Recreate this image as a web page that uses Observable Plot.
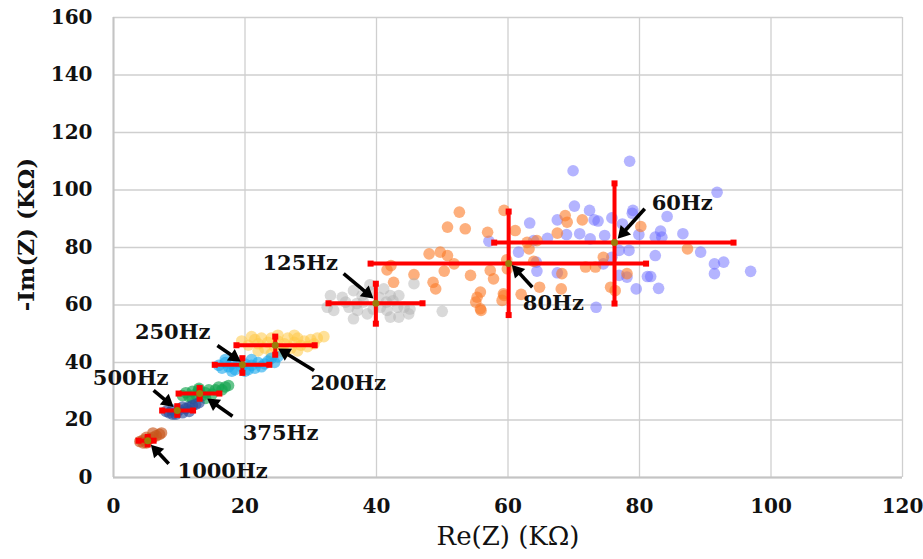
<!DOCTYPE html>
<html><head><meta charset="utf-8">
<script src="https://cdn.jsdelivr.net/npm/d3@7"></script>
<script src="https://cdn.jsdelivr.net/npm/@observablehq/plot@0.6"></script>
<style>
html,body{margin:0;padding:0;background:#fff;}
</style></head><body><div id="chart"></div>
<script>
// ---- Data (Re, -Im in kΩ) ----
const xTicks = [0, 20, 40, 60, 80, 100, 120];
const yTicks = [0, 20, 40, 60, 80, 100, 120, 140, 160];

const pts60Hz = [[69.9,106.7],[78.5,110.0],[91.8,99.2],[70.1,94.4],[72.4,92.9],[73.7,89.2],[73.1,89.6],[75.8,90.3],[79.0,92.9],[78.9,91.9],[77.4,88.2],[84.2,90.8],[68.9,84.5],[70.9,84.8],[72.5,83.0],[74.7,84.2],[79.9,84.5],[83.2,85.7],[82.4,83.6],[83.4,83.6],[86.6,84.8],[78.4,79.0],[76.9,79.0],[89.3,78.4],[82.4,77.2],[75.8,76.6],[74.5,74.3],[91.4,74.3],[92.8,74.9],[91.4,70.9],[96.9,71.7],[76.9,70.3],[78.1,69.7],[81.7,69.9],[79.5,65.6],[82.9,65.8],[73.4,59.2],[63.3,88.5],[67.5,89.6],[63.9,82.4],[66.0,83.2],[61.6,78.4],[64.3,74.9],[64.4,71.8],[67.5,71.2],[81.2,69.9],[57.1,82.2]];
const pts80Hz = [[52.6,92.3],[50.8,87.1],[53.5,86.5],[56.9,85.3],[59.4,92.9],[48.0,77.8],[49.7,78.4],[50.8,77.2],[51.8,74.3],[42.2,73.7],[41.6,72.2],[50.3,71.8],[45.7,70.6],[42.6,67.9],[48.6,67.9],[49.0,65.6],[54.3,70.3],[57.3,72.0],[57.8,69.1],[55.8,64.5],[55.3,62.7],[55.1,61.0],[59.3,63.9],[59.1,61.6],[55.9,58.1],[61.1,85.9],[68.7,91.1],[69.0,88.8],[71.3,89.6],[67.5,85.0],[62.9,81.8],[63.2,79.5],[64.4,82.4],[80.2,87.3],[59.8,75.7],[63.9,75.2],[59.9,72.6],[71.8,73.2],[73.3,73.2],[74.5,76.6],[68.2,70.9],[64.8,66.2],[68.1,65.6],[62.0,63.7],[59.4,63.3],[75.6,66.2],[78.1,70.9],[87.3,79.5],[76.3,65.0],[55.8,58.7]];
const pts125Hz = [[33.0,63.3],[34.8,62.7],[33.5,58.1],[36.5,65.0],[37.8,63.3],[39.1,64.5],[41.1,65.6],[42.1,63.3],[43.4,63.3],[45.7,67.4],[50.0,57.8],[35.8,59.2],[37.1,58.1],[36.5,55.2],[38.6,56.9],[41.6,58.1],[42.1,55.8],[43.4,55.8],[44.2,59.2],[44.9,56.9],[45.1,58.6],[40.6,59.2],[39.5,58.6],[40.4,62.7],[38.0,61.0],[35.3,61.0],[43.2,59.2],[32.5,59.2],[37.0,60.5],[41.5,61.0],[39.0,67.0],[42.5,61.5]];
const pts200Hz = [[19.5,47.5],[20.5,46.0],[21.5,48.0],[22.0,46.5],[22.5,48.5],[23.0,45.0],[23.5,47.0],[24.0,48.5],[24.5,45.5],[25.0,47.5],[25.5,44.0],[26.0,46.5],[26.5,48.5],[27.0,45.0],[27.5,47.0],[28.0,48.5],[28.5,46.0],[29.0,47.5],[29.5,45.5],[30.0,48.0],[30.5,46.5],[31.0,48.5],[32.0,49.0],[22.0,44.0],[24.0,43.0],[26.0,43.5],[28.0,44.0],[21.0,49.0],[25.0,49.5],[27.5,49.5]];
const pts250Hz = [[16.0,39.0],[16.5,38.0],[17.0,40.0],[17.5,38.5],[18.0,39.5],[18.5,37.5],[19.0,40.0],[19.5,38.5],[20.0,39.5],[20.5,37.5],[21.0,39.0],[21.5,38.0],[22.0,40.0],[22.5,38.5],[23.0,39.5],[23.5,40.5],[24.0,41.5],[24.5,40.0],[25.0,42.0],[18.0,37.0],[20.0,37.0],[21.0,41.0],[17.0,41.0]];
const pts375Hz = [[10.5,28.5],[11.0,29.5],[11.5,28.0],[12.0,30.0],[12.5,29.0],[13.0,30.5],[13.5,28.5],[14.0,29.5],[14.5,30.5],[15.0,29.0],[15.5,30.5],[16.0,31.5],[16.5,30.5],[17.0,31.5],[17.5,32.0],[12.0,27.5],[14.0,27.5],[13.0,31.0]];
const pts500Hz = [[8.0,23.0],[8.5,22.5],[9.0,23.5],[9.5,22.0],[10.0,23.5],[10.5,22.5],[11.0,24.0],[11.5,24.5],[12.0,25.0],[12.5,25.5],[13.0,26.0],[9.0,22.0],[10.5,24.5],[11.5,23.0]];
const pts1000Hz = [[4.0,12.5],[4.5,13.0],[5.0,12.0],[5.5,13.5],[6.0,14.0],[6.5,14.5],[7.0,15.0],[7.3,15.5],[5.0,14.0],[6.0,15.5],[4.5,12.0]];

// summary per frequency (mean and spread)
const freqLabels = ["60Hz","80Hz","125Hz","200Hz","250Hz","375Hz","500Hz","1000Hz"];
const meanRe = [76.2, 60.1, 39.9, 24.6, 19.6, 13.1, 9.7, 5.2];
const meanIm = [81.7, 74.4, 60.6, 46.0, 39.2, 29.2, 23.3, 12.8];
const reLo  = [57.9, 39.1, 32.7, 18.7, 15.4, 9.9, 7.4, 3.8];
const reHi  = [94.3, 81.0, 47.0, 30.6, 23.7, 16.1, 12.1, 6.1];
const imLo  = [60.5, 56.5, 53.5, 42.7, 36.4, 27.4, 21.8, 11.5];
const imHi  = [102.3, 92.5, 67.4, 49.0, 41.5, 31.1, 24.8, 14.1];

// annotation anchors (data units)
const labelRe = [86.5, 66.9, 28.4, 35.7, 9.0, 25.4, 2.6, 16.6];
const labelIm = [95.3, 60.5, 74.4, 32.7, 50.4, 15.3, 34.4, 2.1];
const arrowFromRe = [80.8, 63.7, 35.0, 30.5, 15.8, 18.1, 6.1, 8.4];
const arrowFromIm = [93.5, 66.2, 70.9, 37.2, 45.9, 21.3, 30.3, 4.8];
const arrowToRe = [76.9, 60.8, 39.3, 25.3, 19.1, 14.5, 8.9, 5.9];
const arrowToIm = [83.6, 73.4, 62.7, 44.5, 40.7, 27.1, 25.0, 10.9];

// ---- styles ----
const groups = [
  {pts: pts60Hz,  fill: "#6a6aff", op: 0.5},
  {pts: pts80Hz,  fill: "#fb7a26", op: 0.6},
  {pts: pts125Hz, fill: "#b4b4b4", op: 0.5},
  {pts: pts200Hz, fill: "#ffc845", op: 0.55},
  {pts: pts250Hz, fill: "#1aa8ec", op: 0.6},
  {pts: pts375Hz, fill: "#12a44e", op: 0.65},
  {pts: pts500Hz, fill: "#2c4f9c", op: 0.65},
  {pts: pts1000Hz,fill: "#c8561c", op: 0.65}
];
const idx = d3.range(freqLabels.length);
const RED = "#ff0000";
const serif = "'DejaVu Serif', 'Liberation Serif', serif";

const layout = {
  width: 923,
  height: 559,
  marginLeft: 113,
  marginRight: 21,
  marginTop: 17,
  marginBottom: 82,
  style: {fontFamily: serif, fontSize: "20px", fontWeight: "bold", color: "#111", background: "#fff", overflow: "visible"},
  x: {domain: [0, 120], ticks: xTicks, tickSize: 0, tickPadding: 21, label: null},
  y: {domain: [0, 160], ticks: yTicks, tickSize: 0, tickPadding: 21, label: null}
};

// first pass: obtain scales to orient the arrowheads in screen space
const probe = Plot.plot({...layout, marks: [Plot.dot([[0,0]], {x: d => d[0], y: d => d[1]})]});
const sx = probe.scale("x"), sy = probe.scale("y");
const heads = idx.map(i => {
  const x1 = sx.apply(arrowFromRe[i]), y1 = sy.apply(arrowFromIm[i]);
  const x2 = sx.apply(arrowToRe[i]), y2 = sy.apply(arrowToIm[i]);
  const L = Math.hypot(x2 - x1, y2 - y1), ux = (x2 - x1) / L, uy = (y2 - y1) / L;
  const hx = x2 - 6 * ux, hy = y2 - 6 * uy;
  return {re: sx.invert(hx), im: sy.invert(hy), angle: Math.atan2(ux, -uy) * 180 / Math.PI};
});

const chart = Plot.plot({
  ...layout,
  marks: [
    Plot.ruleX(xTicks, {stroke: "#cfcfcf", strokeWidth: 1.3}),
    Plot.ruleY(yTicks, {stroke: "#cfcfcf", strokeWidth: 1.3}),
    Plot.ruleX([0], {stroke: "#c4c4c4", strokeWidth: 2}),
    Plot.ruleY([0], {stroke: "#c4c4c4", strokeWidth: 2}),
    ...groups.map(g => Plot.dot(g.pts, {x: d => d[0], y: d => d[1], r: 5.8, fill: g.fill, fillOpacity: g.op, stroke: "none"})),
    // error bars
    Plot.link(idx, {x1: i => reLo[i], x2: i => reHi[i], y1: i => meanIm[i], y2: i => meanIm[i], stroke: RED, strokeWidth: 4}),
    Plot.link(idx, {x1: i => meanRe[i], x2: i => meanRe[i], y1: i => imLo[i], y2: i => imHi[i], stroke: RED, strokeWidth: 4}),
    Plot.dot(idx, {x: i => reLo[i], y: i => meanIm[i], symbol: "square", r: 3.4, fill: RED}),
    Plot.dot(idx, {x: i => reHi[i], y: i => meanIm[i], symbol: "square", r: 3.4, fill: RED}),
    Plot.dot(idx, {x: i => meanRe[i], y: i => imLo[i], symbol: "square", r: 3.4, fill: RED}),
    Plot.dot(idx, {x: i => meanRe[i], y: i => imHi[i], symbol: "square", r: 3.4, fill: RED}),
    Plot.dot(idx, {x: i => meanRe[i], y: i => meanIm[i], r: 3.5, fill: "#9a7e08"}),
    // arrows: shaft + filled triangular head
    Plot.link(idx, {x1: i => arrowFromRe[i], y1: i => arrowFromIm[i], x2: i => heads[i].re, y2: i => heads[i].im, stroke: "#000", strokeWidth: 3.6}),
    Plot.dot(idx, {x: i => heads[i].re, y: i => heads[i].im, rotate: i => heads[i].angle, symbol: "triangle", r: 5.2, fill: "#000", stroke: "none"}),
    Plot.text(idx, {x: i => labelRe[i], y: i => labelIm[i], text: i => freqLabels[i], fontSize: 21, fontWeight: "bold", fill: "#111"}),
    // axis titles
    Plot.text(["Re(Z) (KΩ)"], {frameAnchor: "bottom", dy: 67, fontSize: 26, fontWeight: "normal", fill: "#111", textAnchor: "middle"}),
    Plot.text(["-Im(Z) (KΩ)"], {frameAnchor: "left", dx: -87, dy: -13, rotate: -90, textAnchor: "middle", fontSize: 23, fontWeight: "bold", fill: "#111"})
  ]
});
document.getElementById("chart").appendChild(chart);
</script>
</body></html>
